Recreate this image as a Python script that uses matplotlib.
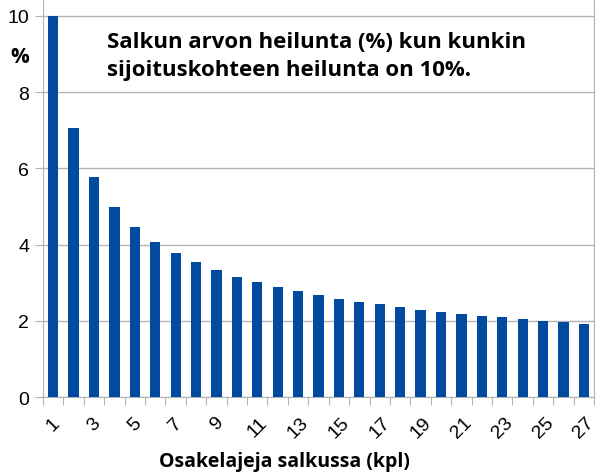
import matplotlib
matplotlib.use("Agg")
import matplotlib.pyplot as plt
import numpy as np

# Number of stocks in the portfolio and portfolio volatility (%)
stocks = list(range(1, 28))
volatility = [10.0, 7.07, 5.77, 5.0, 4.47, 4.08, 3.78, 3.54, 3.33, 3.16,
              3.02, 2.89, 2.77, 2.67, 2.58, 2.5, 2.43, 2.36, 2.29, 2.24,
              2.18, 2.13, 2.09, 2.04, 2.0, 1.96, 1.92]
y_ticks = [0, 2, 4, 6, 8, 10]

title = "Salkun arvon heilunta (%) kun kunkin\nsijoituskohteen heilunta on 10%."
x_label = "Osakelajeja salkussa (kpl)"

fig = plt.figure(figsize=(6.05, 4.77), dpi=100)
ax = fig.add_axes([0.071, 0.1656, 0.911, 0.8344])

x = np.arange(len(stocks))
ax.bar(x, volatility, width=0.5, color="#004a9f", zorder=3)

ax.set_xlim(-0.5, len(stocks) - 0.5)
ax.set_ylim(0, 10.446)
ax.set_yticks(y_ticks)
ax.set_yticklabels([str(v) for v in y_ticks], fontsize=14, family="Liberation Sans")
ax.yaxis.grid(True, color="#b3b3b3", linewidth=1, zorder=0)

# tick marks at category boundaries, labels on odd categories
ax.set_xticks(np.arange(len(stocks) + 1) - 0.5)
ax.set_xticklabels([])
ax.set_xticks(x[::2], minor=True)
ax.set_xticklabels([str(s) for s in stocks[::2]], minor=True, rotation=45,
                   fontsize=14, family="Liberation Sans", ha="center", va="top")
ax.tick_params(axis="x", which="major", length=6, color="#b3b3b3")
ax.tick_params(axis="x", which="minor", length=0, pad=12)
ax.tick_params(axis="y", length=6, color="#b3b3b3", pad=4)

for side in ["left", "right", "bottom"]:
    ax.spines[side].set_color("#b3b3b3")
ax.spines["top"].set_visible(False)

ax.text(0.117, 0.92, title, transform=ax.transAxes, fontsize=16,
        fontweight="bold", family="Open Sans", va="top", ha="left",
        linespacing=1.45)
fig.text(0.017, 0.88, "%", fontsize=15, fontweight="bold",
         family="Open Sans", ha="left", va="center")
fig.text(0.47, 0.032, x_label, fontsize=14, fontweight="bold",
         family="Open Sans", ha="center", va="center")

fig.savefig("out.png", dpi=100)
